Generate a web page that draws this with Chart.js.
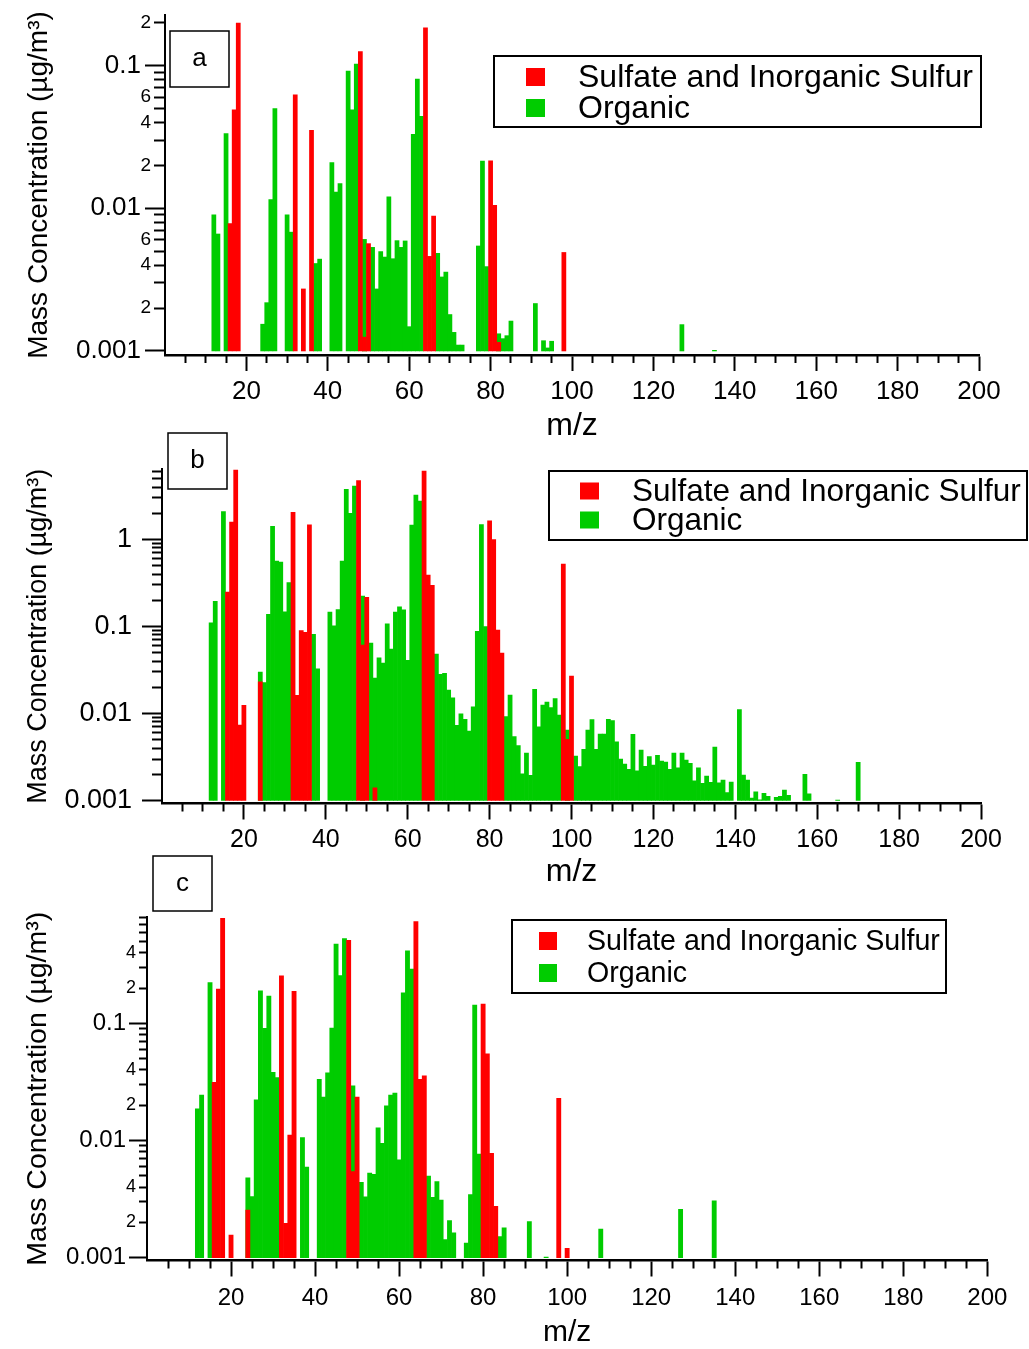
<!DOCTYPE html>
<html><head><meta charset="utf-8">
<script src="https://cdn.jsdelivr.net/npm/chart.js@4.4.1/dist/chart.umd.min.js"></script>
<style>
html,body{margin:0;padding:0;background:#fff;}
#wrap{position:relative;width:1029px;height:1349px;overflow:hidden;background:#fff;}
canvas{position:absolute;left:0;}
</style></head><body>
<div id="wrap">
<canvas id="cA" width="1029" height="445" style="top:0px"></canvas>
<canvas id="cB" width="1029" height="471" style="top:420px"></canvas>
<canvas id="cC" width="1029" height="504" style="top:845px"></canvas>
</div>
<script>
// ---------------- DATA ----------------
const seriesNames = ['Sulfate and Inorganic Sulfur', 'Organic'];

// Panel a
const mzA_sul = [16,17,18,32,34,36,48,49,50,64,65,66,80,81,82,98];
const concA_sul = [0.0078,0.049,0.198,0.0624,0.00272,0.0351,0.125,0.00125,0.00565,0.184,0.0046,0.0088,0.0215,0.0105,0.00115,0.0049];
const mzA_org = [12,13,15,24,25,26,27,30,31,37,38,41,42,43,45,46,47,49,51,52,53,54,55,56,57,58,59,60,61,62,63,67,68,69,70,71,72,73,77,78,79,82,83,84,85,91,93,94,95,127,135];
const concA_org = [0.0090,0.0066,0.0334,0.00154,0.00218,0.0115,0.050,0.0090,0.0068,0.0041,0.0044,0.0209,0.0130,0.0149,0.0915,0.049,0.1025,0.00605,0.00532,0.00272,0.00497,0.00455,0.0120,0.00443,0.00593,0.00532,0.0059,0.00148,0.033,0.0803,0.044,0.00483,0.0033,0.00357,0.0018,0.00135,0.0011,0.0011,0.00544,0.0214,0.0039,0.00132,0.00122,0.00128,0.00162,0.00215,0.00118,0.00105,0.00117,0.00153,0.00101];

// Panel b
const mzB_sul = [16,17,18,19,20,24,32,33,34,35,36,48,49,50,52,64,65,66,80,81,82,83,98,99,100];
const concB_sul = [0.249,1.59,6.29,0.00738,0.0124,0.0232,2.05,0.0162,0.0895,0.0857,1.47,4.74,0.061,0.217,0.0014,6.13,0.391,0.297,1.64,1.0,0.0912,0.0496,0.523,0.00505,0.027];
const mzB_org = [12,13,15,24,25,26,27,28,29,30,31,37,38,41,42,43,44,45,46,47,49,51,52,53,54,55,56,57,58,59,60,61,62,63,67,68,69,70,71,72,73,74,75,76,77,78,79,84,85,86,87,88,89,90,91,92,93,94,95,96,97,99,101,102,103,104,105,106,107,108,109,110,111,112,113,114,115,116,117,118,119,120,121,122,123,124,125,126,127,128,129,130,131,132,133,134,135,136,137,138,139,141,142,143,144,145,146,147,148,150,151,152,153,157,158,165,170];
const concB_org = [0.110,0.195,2.09,0.030,0.0226,0.138,1.42,0.566,0.551,0.147,0.319,0.0813,0.0327,0.146,0.102,0.157,0.566,3.78,2.0,4.12,0.224,0.0646,0.0256,0.0435,0.038,0.107,0.055,0.146,0.168,0.155,0.0409,1.46,3.25,2.77,0.0483,0.0282,0.029,0.0186,0.0151,0.0073,0.0099,0.0086,0.0063,0.0119,0.088,1.48,0.0995,0.0092,0.0163,0.00542,0.00427,0.00203,0.00352,0.00195,0.019,0.00705,0.0125,0.0135,0.0117,0.0148,0.0096,0.00646,0.00325,0.00245,0.00388,0.00646,0.0085,0.00388,0.0058,0.0058,0.0086,0.0083,0.00474,0.003,0.00263,0.00229,0.00576,0.0022,0.0038,0.00247,0.00319,0.00256,0.0033,0.00284,0.00277,0.00229,0.00352,0.00237,0.0035,0.00292,0.00268,0.00168,0.00238,0.00158,0.00191,0.00162,0.00412,0.0016,0.00172,0.00123,0.00163,0.0111,0.00196,0.00172,0.00107,0.00126,0.00102,0.00121,0.00112,0.00109,0.00112,0.00132,0.00115,0.002,0.00119,0.00101,0.00275];

// Panel c
const mzC_sul = [16,17,18,20,24,32,33,34,35,48,49,50,64,65,66,80,81,82,83,98,100];
const concC_sul = [0.0314,0.196,0.787,0.00156,0.00255,0.2535,0.00196,0.0111,0.187,0.51,0.00542,0.0235,0.736,0.0333,0.0357,0.146,0.055,0.00776,0.00274,0.0229,0.0012];
const mzC_org = [12,13,15,24,25,26,27,28,29,30,31,37,38,41,42,43,44,45,46,47,49,51,52,53,54,55,56,57,58,59,60,61,62,63,67,68,69,70,71,72,73,76,77,78,79,84,85,91,95,108,127,135];
const concC_org = [0.0186,0.0244,0.222,0.0048,0.00332,0.0222,0.189,0.0906,0.171,0.0382,0.0344,0.0106,0.00594,0.0333,0.0235,0.0377,0.0912,0.475,0.255,0.527,0.0292,0.0044,0.0033,0.00528,0.00514,0.0128,0.00946,0.0198,0.0244,0.0254,0.00683,0.182,0.416,0.290,0.00498,0.00327,0.00446,0.0031,0.00143,0.00207,0.00163,0.00133,0.00345,0.143,0.00767,0.00151,0.0018,0.00203,0.00101,0.00175,0.00258,0.00305];

// Tick values and labels
const xMajorTicks = [20,40,60,80,100,120,140,160,180,200];
const xMajorLabels = ['20','40','60','80','100','120','140','160','180','200'];
const xMinorTicks = [5,10,15,25,30,35,45,50,55,65,70,75,85,90,95,105,110,115,125,130,135,145,150,155,165,170,175,185,190,195];

const yMajorA = [0.001,0.01,0.1];
const yMajorLabelsA = ['0.001','0.01','0.1'];
const yMinorA = [0.002,0.003,0.004,0.005,0.006,0.007,0.008,0.009,0.02,0.03,0.04,0.05,0.06,0.07,0.08,0.09,0.2];
const yMinorLabelsA = ['2','','4','','6','','','','2','','4','','6','','','','2'];

const yMajorB = [0.001,0.01,0.1,1];
const yMajorLabelsB = ['0.001','0.01','0.1','1'];
const yMinorB = [0.002,0.003,0.004,0.005,0.006,0.007,0.008,0.009,0.02,0.03,0.04,0.05,0.06,0.07,0.08,0.09,0.2,0.3,0.4,0.5,0.6,0.7,0.8,0.9,2,3,4,5,6];
const yMinorLabelsB = yMinorB.map(() => '');

const yMajorC = [0.001,0.01,0.1];
const yMajorLabelsC = ['0.001','0.01','0.1'];
const yMinorC = [0.002,0.003,0.004,0.005,0.006,0.007,0.008,0.009,0.02,0.03,0.04,0.05,0.06,0.07,0.08,0.09,0.2,0.3,0.4,0.5,0.6,0.7,0.8];
const yMinorLabelsC = ['2','','4','','','','','','2','','4','','','','','','2','','4','','','',''];

const BASE = 0.001;
const RED = 'rgb(255,0,0)';
const GREEN = 'rgb(0,204,0)';
const FONT = "'Liberation Sans', Arial, Helvetica, sans-serif";
const Y_TITLE = 'Mass Concentration (µg/m³)';

// ---------------- RENDERING ----------------
const decorPlugin = {
  id: 'decor',
  afterLayout(chart) {
    // let the zero-width minor-tick axis own the full label column so its labels are not clipped
    const s = chart.scales.y2;
    if (s) { s.left = 0; s.width = s.right; }
  },
  afterDraw(chart, args, o) {
    const ctx = chart.ctx;
    ctx.save();
    ctx.strokeStyle = '#000';
    ctx.lineWidth = 1.5;
    const lb = o.letterBox;
    ctx.strokeRect(lb[0], lb[1], lb[2], lb[3]);
    ctx.fillStyle = '#000';
    ctx.font = o.letterFont + 'px ' + FONT;
    ctx.textAlign = 'center';
    ctx.textBaseline = 'middle';
    ctx.fillText(o.letter, lb[0] + lb[2] / 2, lb[1] + lb[3] / 2);
    const L = o.legend;
    ctx.lineWidth = 2;
    ctx.strokeRect(L.box[0], L.box[1], L.box[2], L.box[3]);
    ctx.font = L.font + 'px ' + FONT;
    ctx.textAlign = 'left';
    chart.data.datasets.forEach((ds, i) => {
      const cy = L.rows[i];
      ctx.fillStyle = ds.backgroundColor;
      ctx.fillRect(L.swX, cy - L.swH / 2, L.swW, L.swH);
      ctx.fillStyle = '#000';
      ctx.fillText(ds.label, L.textX, cy + 1);
    });
    ctx.restore();
  }
};

function bars(mz, conc) { return mz.map((m, i) => ({ x: m, y: [BASE, conc[i]] })); }

function makePanel(id, p) {
  const ds = (label, color, mz, conc) => ({
    label, data: bars(mz, conc), backgroundColor: color, borderWidth: 0,
    barPercentage: 1, categoryPercentage: 1, grouped: false, xAxisID: 'x', yAxisID: 'y'
  });
  new Chart(document.getElementById(id), {
    type: 'bar',
    data: { datasets: [
      ds(seriesNames[0], RED, p.mzS, p.cS),
      ds(seriesNames[1], GREEN, p.mzO, p.cO)
    ]},
    plugins: [decorPlugin],
    options: {
      responsive: false, animation: false, devicePixelRatio: 1,
      layout: { padding: { top: p.padTop, right: p.padRight, bottom: 0, left: 0 } },
      plugins: { legend: { display: false }, tooltip: { enabled: false }, decor: p.decor },
      scales: {
        x: {
          type: 'linear', position: 'bottom', weight: 1, min: 0, max: 200, offset: false,
          afterBuildTicks: s => { s.ticks = xMajorTicks.map(v => ({ value: v })); },
          afterFit: s => { s.height = p.xHeight; s.paddingLeft = 0; s.paddingRight = 0; },
          ticks: { autoSkip: false, maxRotation: 0, minRotation: 0, padding: p.xPad, color: '#000',
                   font: { family: FONT, size: p.xFont }, callback: (v, i) => xMajorLabels[i] },
          grid: { offset: false, drawOnChartArea: false, drawTicks: true, tickLength: p.xTL, tickWidth: 2, tickColor: '#000', color: '#000' },
          border: { display: true, color: '#000', width: 2.5 },
          title: { display: true, text: 'm/z', color: '#000', font: { family: FONT, size: p.xTitleFont }, padding: { top: 0, bottom: p.xTitlePadB } }
        },
        x2: {
          type: 'linear', position: 'bottom', weight: 0, min: 0, max: 200, offset: false,
          afterBuildTicks: s => { s.ticks = xMinorTicks.map(v => ({ value: v })); },
          afterFit: s => { s.height = 0; s.paddingLeft = 0; s.paddingRight = 0; },
          ticks: { display: false, autoSkip: false },
          grid: { offset: false, drawOnChartArea: false, drawTicks: true, tickLength: p.xTLm, tickWidth: 2, tickColor: '#000', color: '#000' },
          border: { display: false }
        },
        y: {
          type: 'logarithmic', position: 'left', weight: 1, min: p.yMin, max: p.yMax,
          afterBuildTicks: s => { s.ticks = p.yMaj.map(v => ({ value: v })); },
          afterFit: s => { s.width = p.yWidth; s.paddingTop = 0; s.paddingBottom = 0; },
          ticks: { autoSkip: false, padding: p.yPad, color: '#000', font: { family: FONT, size: p.yFont },
                   callback: (v, i) => p.yMajL[i] },
          grid: { drawOnChartArea: false, drawTicks: true, tickLength: p.yTL, tickWidth: 2, tickColor: '#000', color: '#000' },
          border: { display: true, color: '#000', width: 2 },
          title: { display: true, text: Y_TITLE, color: '#000', font: { family: FONT, size: p.yTitleFont }, padding: { top: p.yTitlePad, bottom: 0 } }
        },
        y2: {
          type: 'logarithmic', position: 'left', weight: 0, min: p.yMin, max: p.yMax,
          afterBuildTicks: s => { s.ticks = p.yMin2.map(v => ({ value: v })); },
          afterFit: s => { s.width = 0; s.paddingTop = 0; s.paddingBottom = 0; },
          ticks: { autoSkip: false, padding: p.yPadm, color: '#000', font: { family: FONT, size: p.yFontm },
                   callback: (v, i) => p.yMin2L[i] },
          grid: { drawOnChartArea: false, drawTicks: true, tickLength: p.yTLm, tickWidth: 2, tickColor: '#000', color: '#000' },
          border: { display: false }
        }
      }
    }
  });
}

makePanel('cA', {
  mzS: mzA_sul, cS: concA_sul, mzO: mzA_org, cO: concA_org,
  padTop: 15, padRight: 50, xHeight: 90, yWidth: 165,
  yMin: 0.000937, yMax: 0.2259,
  yMaj: yMajorA, yMajL: yMajorLabelsA, yMin2: yMinorA, yMin2L: yMinorLabelsA,
  xFont: 26, xPad: 5, xTL: 16, xTLm: 8, xTitleFont: 32, xTitlePadB: 0,
  yFont: 26, yPad: 4, yTL: 20, yFontm: 19, yPadm: 3, yTLm: 11, yTitleFont: 28, yTitlePad: 22,
  decor: { letter: 'a', letterBox: [170, 31, 59, 56], letterFont: 26,
    legend: { box: [494, 56, 487, 71], swX: 526, swW: 19, swH: 18, textX: 578, rows: [77, 108], font: 32 } }
});

makePanel('cB', {
  mzS: mzB_sul, cS: concB_sul, mzO: mzB_org, cO: concB_org,
  padTop: 49, padRight: 48, xHeight: 87.5, yWidth: 162,
  yMin: 0.000924, yMax: 6.46,
  yMaj: yMajorB, yMajL: yMajorLabelsB, yMin2: yMinorB, yMin2L: yMinorLabelsB,
  xFont: 25, xPad: 5.5, xTL: 16, xTLm: 8, xTitleFont: 32, xTitlePadB: 0,
  yFont: 27, yPad: 10, yTL: 20, yFontm: 18, yPadm: 3, yTLm: 10, yTitleFont: 27, yTitlePad: 22,
  decor: { letter: 'b', letterBox: [168, 13, 59, 56], letterFont: 26,
    legend: { box: [549, 51, 478, 69], swX: 580, swW: 19, swH: 17, textX: 632, rows: [71, 100], font: 31.5 } }
});

makePanel('cC', {
  mzS: mzC_sul, cS: concC_sul, mzO: mzC_org, cO: concC_org,
  padTop: 72, padRight: 41.7, xHeight: 88.5, yWidth: 147,
  yMin: 0.000946, yMax: 0.807,
  yMaj: yMajorC, yMajL: yMajorLabelsC, yMin2: yMinorC, yMin2L: yMinorLabelsC,
  xFont: 24, xPad: 7, xTL: 16, xTLm: 8, xTitleFont: 30, xTitlePadB: -2,
  yFont: 24, yPad: 3, yTL: 18, yFontm: 18, yPadm: 3, yTLm: 8, yTitleFont: 28.5, yTitlePad: 21,
  decor: { letter: 'c', letterBox: [153, 11, 59, 55], letterFont: 26,
    legend: { box: [512, 75, 434, 73], swX: 539, swW: 18, swH: 18, textX: 587, rows: [96, 128], font: 28.6 } }
});
</script>
</body></html>
